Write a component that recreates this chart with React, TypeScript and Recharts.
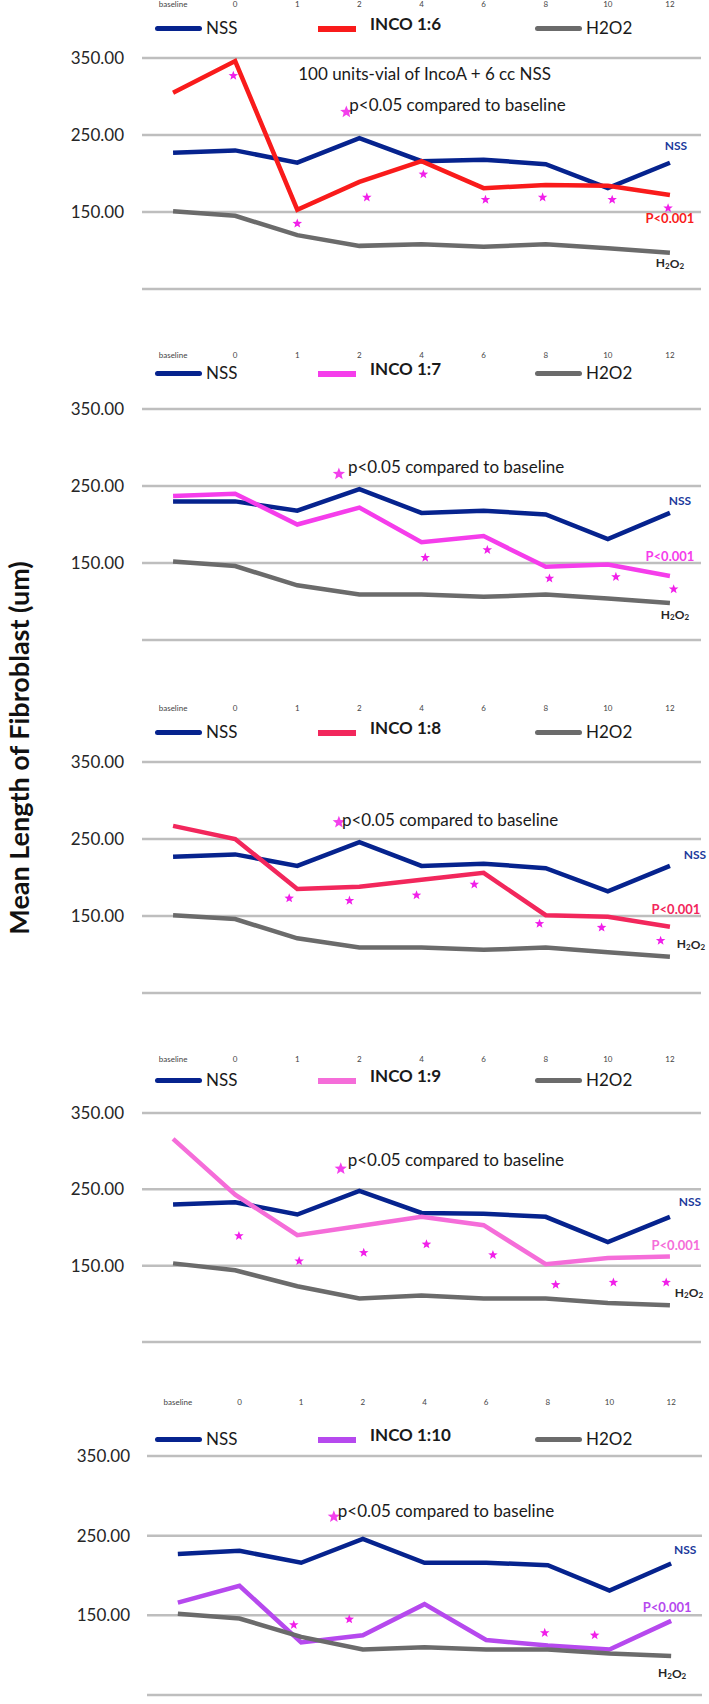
import React from "react";
import {
  ComposedChart,
  Line,
  Scatter,
  XAxis,
  YAxis,
  Legend,
  ReferenceDot,
  ReferenceLine,
} from "recharts";

// x categories (weeks) and y ticks
const timeLabels = ["baseline", "0", "1", "2", "4", "6", "8", "10", "12"];
const timeIndex = [0, 1, 2, 3, 4, 5, 6, 7, 8];
const yTicks = [50, 150, 250, 350];

// panel 1 - INCO 1:6
const nss1 = [227, 230, 214, 246, 216, 218, 212, 181, 214];
const inco1 = [305, 346, 153, 189, 216, 181, 185, 184, 172];
const h2o2_1 = [151, 145, 120, 106, 108, 105, 108, 103, 97];
const starX1 = [0.97, 2.0, 3.12, 4.03, 5.03, 5.95, 7.07, 7.97];
const starY1 = [327, 135, 169, 199, 166, 169, 166, 155];

// panel 2 - INCO 1:7
const nss2 = [230, 230, 218, 246, 215, 218, 213, 181, 215];
const inco2 = [237, 240, 200, 222, 177, 185, 145, 148, 133];
const h2o2_2 = [152, 146, 121, 109, 109, 106, 109, 104, 98];
const starX2 = [4.06, 5.06, 6.06, 7.13, 8.06];
const starY2 = [157, 167, 130, 132, 116];

// panel 3 - INCO 1:8
const nss3 = [227, 230, 215, 246, 215, 218, 212, 182, 215];
const inco3 = [267, 250, 185, 188, 197, 206, 151, 149, 136];
const h2o2_3 = [151, 146, 121, 109, 109, 106, 109, 103, 97];
const starX3 = [1.87, 2.84, 3.92, 4.85, 5.9, 6.9, 7.85];
const starY3 = [173, 170, 177, 191, 140, 135, 118];

// panel 4 - INCO 1:9
const nss4 = [230, 233, 217, 248, 219, 218, 214, 181, 214];
const inco4 = [316, 243, 190, 202, 214, 203, 152, 160, 162];
const h2o2_4 = [153, 144, 123, 107, 111, 107, 107, 101, 98];
const starX4 = [1.06, 2.03, 3.07, 4.08, 5.15, 6.16, 7.09, 7.94];
const starY4 = [189, 156, 167, 178, 164, 125, 128, 128];

// panel 5 - INCO 1:10
const nss5 = [227, 231, 216, 246, 216, 216, 213, 181, 215];
const inco5 = [166, 187, 116, 125, 164, 119, 112, 107, 143];
const h2o2_5 = [152, 146, 123, 107, 110, 107, 107, 102, 99];
const starX5 = [1.88, 2.78, 5.95, 6.76];
const starY5 = [138, 145, 128, 125];

const FONT = "Lato, 'Open Sans', sans-serif";
const NSS_COLOR = "#06238E";
const H2O2_COLOR = "#6B6B6B";
const STAR_COLOR = "#F11FE9";
const GRID_COLOR = "#BEBEBE";

const panels = [
  {
    name: "INCO 1:6", color: "#F91B1B", nss: nss1, inco: inco1, h2o2: h2o2_1, starX: starX1, starY: starY1,
    sig: [2.79, 280], note: true,
    lay: { top: 58, bottom: 289, left: 142, right: 701, legendOff: 30, sigDx: 3, sigDy: -7,
      nssLab: [6, -17], pLab: [0, 23], hLab: [0, 10] },
  },
  {
    name: "INCO 1:7", color: "#F53DEB", nss: nss2, inco: inco2, h2o2: h2o2_2, starX: starX2, starY: starY2,
    sig: [2.67, 265.6], note: false,
    lay: { top: 409, bottom: 640, left: 142, right: 701, legendOff: 36, sigDx: 9, sigDy: -7,
      nssLab: [10, -12], pLab: [0, -20], hLab: [5, 11] },
  },
  {
    name: "INCO 1:8", color: "#F2275C", nss: nss3, inco: inco3, h2o2: h2o2_3, starX: starX3, starY: starY3,
    sig: [2.67, 271.7], note: false,
    lay: { top: 762, bottom: 993, left: 142, right: 701, legendOff: 30, sigDx: 3, sigDy: -3,
      nssLab: [25, -11], pLab: [6, -18], hLab: [21, -13] },
  },
  {
    name: "INCO 1:9", color: "#F56DD9", nss: nss4, inco: inco4, h2o2: h2o2_4, starX: starX4, starY: starY4,
    sig: [2.7, 277], note: false,
    lay: { top: 1113, bottom: 1342, left: 142, right: 701, legendOff: 33, sigDx: 7, sigDy: -9,
      nssLab: [20, -15], pLab: [6, -11], hLab: [19, -13] },
  },
  {
    name: "INCO 1:10", color: "#B649EE", nss: nss5, inco: inco5, h2o2: h2o2_5, starX: starX5, starY: starY5,
    sig: [2.53, 273.8], note: false,
    lay: { top: 1456, bottom: 1695, left: 147, right: 702, legendOff: 17, sigDx: 4, sigDy: -6,
      nssLab: [14, -14], pLab: [-4, -14], hLab: [1, 17] },
  },
];

// y domain padded a little so the edge gridlines sit inside the plot
const Y_PAD = 2;
const HEAD = 60;

function starPath(cx: number, cy: number, R: number, r: number) {
  let d = "";
  for (let i = 0; i < 10; i++) {
    const rad = i % 2 === 0 ? R : r;
    const a = -Math.PI / 2 + (i * Math.PI) / 5;
    d += (i ? "L" : "M") + (cx + rad * Math.cos(a)).toFixed(2) + "," + (cy + rad * Math.sin(a)).toFixed(2);
  }
  return d + "Z";
}

const legendPos: Record<string, { x: number; w: number; round: boolean }> = {
  nss: { x: 155, w: 47, round: true },
  inco: { x: 318, w: 38, round: false },
  h2o2: { x: 535, w: 47, round: true },
};

function renderLegend(props: any) {
  const items = (props.payload || []).filter((p: any) => legendPos[p.dataKey]);
  return (
    <div style={{ position: "relative", width: 709, height: 24, fontFamily: FONT }}>
      {items.map((p: any) => {
        const pos = legendPos[p.dataKey];
        const bold = p.dataKey === "inco";
        return (
          <div key={p.dataKey}>
            <div
              style={{
                position: "absolute",
                left: pos.x,
                top: 10,
                width: pos.w,
                height: bold ? 6 : 5,
                borderRadius: pos.round ? 3 : 0,
                background: p.color,
              }}
            />
            <div
              style={{
                position: "absolute",
                left: pos.x + pos.w + (bold ? 14 : 4),
                top: bold ? 0 : 4,
                fontSize: 17,
                fontWeight: bold ? 700 : 400,
                color: "#1a1a1a",
                lineHeight: "16px",
                whiteSpace: "nowrap",
              }}
            >
              {p.value}
            </div>
          </div>
        );
      })}
    </div>
  );
}

function Panel({ panel }: { panel: (typeof panels)[number] }) {
  const { lay } = panel;
  const unit = (lay.bottom - lay.top) / (yTicks[yTicks.length - 1] - yTicks[0]);
  const padPx = Y_PAD * unit;
  const plotH = lay.bottom - lay.top + 2 * padPx;
  const head = HEAD - padPx;
  const height = head + plotH + 4;
  const data = timeIndex.map((i) => ({ idx: i, nss: panel.nss[i], inco: panel.inco[i], h2o2: panel.h2o2[i] }));
  const stars = panel.starX.map((x, i) => ({ idx: x, star: panel.starY[i] }));
  const last = timeIndex.length - 1;

  const endLabel = (text: React.ReactNode, color: string, off: number[], size: number) => (p: any) => (
    <text
      x={p.cx + off[0]}
      y={p.cy + off[1]}
      textAnchor="middle"
      dominantBaseline="central"
      fill={color}
      fontSize={size}
      fontWeight={700}
      fontFamily={FONT}
    >
      {text}
    </text>
  );

  return (
    <div style={{ position: "absolute", left: 0, top: lay.top - HEAD }}>
      <ComposedChart
        width={709}
        height={height}
        data={data}
        margin={{ top: 0, right: 709 - lay.right, bottom: 4, left: 0 }}
        style={{ fontFamily: FONT }}
      >
        {yTicks.map((t) => (
          <ReferenceLine key={t} y={t} stroke={GRID_COLOR} strokeWidth={2.5} ifOverflow="visible" />
        ))}
        <XAxis
          dataKey="idx"
          type="number"
          orientation="top"
          domain={[-0.5, 8.5]}
          ticks={timeIndex}
          interval={0}
          allowDataOverflow
          tickFormatter={(v: number) => timeLabels[v]}
          height={head}
          axisLine={false}
          tickLine={false}
          tickSize={0}
          tickMargin={51 - padPx}
          tick={{ fontSize: 8, fill: "#444", fontFamily: FONT }}
        />
        <YAxis
          type="number"
          domain={[yTicks[0] - Y_PAD, yTicks[yTicks.length - 1] + Y_PAD]}
          ticks={yTicks}
          allowDataOverflow
          width={lay.left}
          axisLine={false}
          tickLine={false}
          tickSize={0}
          tickMargin={lay.left === 142 ? 18 : 17}
          tickFormatter={(v: number) => v.toFixed(2)}
          tick={{ fontSize: 17, fill: "#262626", fontFamily: FONT }}
        />
        <Legend
          layout="horizontal"
          verticalAlign="middle"
          align="center"
          wrapperStyle={{ top: HEAD - lay.legendOff - 12, left: 0, width: 709, height: 24 }}
          content={renderLegend}
        />
        <Line name="NSS" dataKey="nss" stroke={NSS_COLOR} strokeWidth={4.5} dot={false} isAnimationActive={false} />
        <Line name={panel.name} dataKey="inco" stroke={panel.color} strokeWidth={4.5} dot={false} isAnimationActive={false} />
        <Line name="H2O2" dataKey="h2o2" stroke={H2O2_COLOR} strokeWidth={4.5} dot={false} isAnimationActive={false} />
        <Scatter
          data={stars}
          dataKey="star"
          legendType="none"
          isAnimationActive={false}
          shape={(p: any) => <path d={starPath(p.cx, p.cy, 5, 2.1)} fill={STAR_COLOR} />}
        />
        <ReferenceDot
          x={last}
          y={panel.nss[last]}
          r={0}
          ifOverflow="visible"
          shape={endLabel("NSS", "#1C3A9C", lay.nssLab, 12)}
        />
        <ReferenceDot
          x={last}
          y={panel.inco[last]}
          r={0}
          ifOverflow="visible"
          shape={endLabel("P<0.001", panel.color, lay.pLab, 13)}
        />
        <ReferenceDot
          x={last}
          y={panel.h2o2[last]}
          r={0}
          ifOverflow="visible"
          shape={endLabel(
            <>
              H<tspan fontSize={8} dy={3}>2</tspan>
              <tspan dy={-3}>O</tspan>
              <tspan fontSize={8} dy={3}>2</tspan>
            </>,
            "#262626",
            lay.hLab,
            12
          )}
        />
        <ReferenceDot
          x={panel.sig[0]}
          y={panel.sig[1]}
          r={0}
          ifOverflow="visible"
          shape={(p: any) => (
            <g>
              <path d={starPath(p.cx, p.cy, 6.5, 2.8)} fill={STAR_COLOR} opacity={0.85} />
              <text
                x={p.cx + lay.sigDx}
                y={p.cy + lay.sigDy}
                dominantBaseline="central"
                fontSize={17}
                fill="#1a1a1a"
                fontFamily={FONT}
              >
                p&lt;0.05 compared to baseline
              </text>
            </g>
          )}
        />
        {panel.note && (
          <ReferenceDot
            x={4.05}
            y={330.5}
            r={0}
            ifOverflow="visible"
            shape={(p: any) => (
              <text
                x={p.cx}
                y={p.cy}
                textAnchor="middle"
                dominantBaseline="central"
                fontSize={17}
                fill="#1a1a1a"
                fontFamily={FONT}
              >
                100 units-vial of IncoA + 6 cc NSS
              </text>
            )}
          />
        )}
      </ComposedChart>
    </div>
  );
}

export default function App() {
  return (
    <div
      style={{
        position: "absolute",
        left: 0,
        top: 0,
        width: 709,
        height: 1704,
        overflow: "hidden",
        background: "#fff",
      }}
    >
      {panels.map((p) => (
        <Panel key={p.name} panel={p} />
      ))}
      <div
        style={{
          position: "absolute",
          left: 18,
          top: 748,
          transform: "translate(-50%, -50%) rotate(-90deg)",
          whiteSpace: "nowrap",
          fontFamily: FONT,
          fontWeight: 700,
          fontSize: 27,
          color: "#111",
        }}
      >
        Mean Length of Fibroblast (um)
      </div>
    </div>
  );
}
